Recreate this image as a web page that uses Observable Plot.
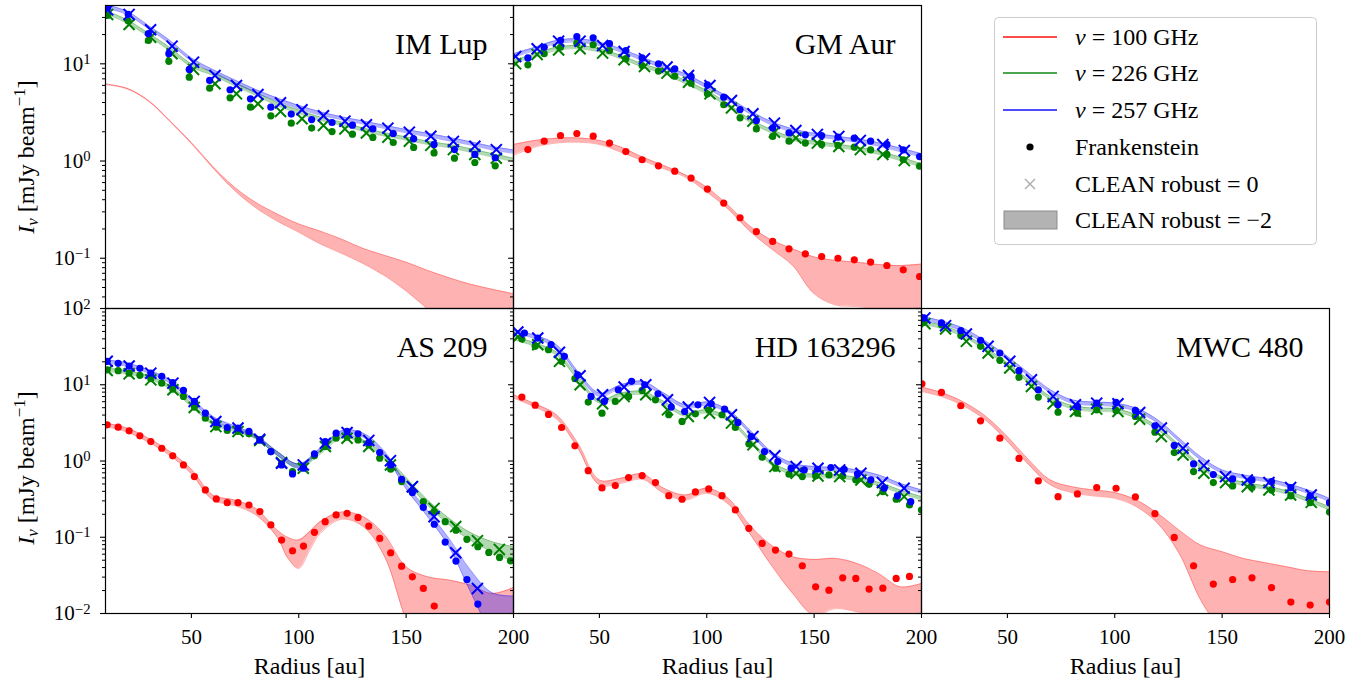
<!DOCTYPE html>
<html><head><meta charset="utf-8">
<script src="https://cdn.jsdelivr.net/npm/d3@7"></script>
<script src="https://cdn.jsdelivr.net/npm/@observablehq/plot@0.6"></script>
<style>
body{margin:0;background:#fff;}
#wrap{position:relative;width:1368px;height:685px;overflow:hidden;background:#fff;font-family:"Liberation Serif","DejaVu Serif",serif;}
#wrap svg{position:absolute;}
#wrap svg text{font-family:"Liberation Serif","DejaVu Serif",serif !important;}
</style></head><body><div id="wrap"></div>
<script>
// ---------------- shared ----------------
const grid = [10,20,30,40,50,60,70,80,90,100,110,120,130,140,150,160,170,180,190,200];
const xTicks = [50,100,150,200];
const yDomainTop = [0.0304, 39.8];
const yDomainBottom = [0.01, 100];
const yMajor = [0.01, 0.1, 1, 10, 100];
const yMinor = [0.02,0.03,0.04,0.05,0.06,0.07,0.08,0.09,0.2,0.3,0.4,0.5,0.6,0.7,0.8,0.9,2,3,4,5,6,7,8,9,20,30,40,50,60,70,80,90];

// ---------------- IM Lup ----------------
const imlup_fr_x = [11,20.6,30,39.5,49,58.5,68,77.5,87,96.5,106,115.5,125,134.5,144,153.5,163,172.5,182,191.5];
const imlup_fr257 = [37.7,32.2,20.4,12.7,8.75,6.74,5.41,4.36,3.58,3.04,2.67,2.49,2.34,2.14,1.92,1.69,1.48,1.31,1.17,1.08];
const imlup_fr226 = [31.4,27.5,17.4,10.6,7.29,5.62,4.47,3.58,2.92,2.45,2.18,2.01,1.89,1.75,1.55,1.38,1.21,1.07,0.966,0.893];
const imlup_cl_x = [11,21,31,41,51,61,71,81,91.5,101.5,111.5,121.5,131.5,141.5,151.5,161.5,172,182,192];
const imlup_cl257 = [35.9,32.2,22.4,15.2,10.4,7.59,5.98,4.83,3.97,3.37,2.92,2.57,2.36,2.18,1.98,1.80,1.59,1.42,1.31];
const imlup_cl226 = [32.2,25.4,18.8,12.7,8.75,6.23,4.91,3.88,3.24,2.72,2.32,2.14,1.94,1.76,1.60,1.45,1.31,1.17,1.07];
const imlup_b100_hi = [6.2,5.6,4.2,2.6,1.55,0.88,0.54,0.375,0.285,0.225,0.19,0.157,0.126,0.107,0.091,0.075,0.063,0.054,0.048,0.0431];
const imlup_b100_lo = [6.12,5.52,4.13,2.55,1.51,0.85,0.50,0.33,0.24,0.185,0.14,0.112,0.088,0.066,0.046,0.030,0.020,0.0135,0.0095,0.0068];
const imlup_b226_hi = [35.4,28.4,20.7,14.7,10.0,8.21,6.43,5.11,4.00,3.34,2.83,2.51,2.18,1.95,1.77,1.60,1.48,1.34,1.19,1.07];
const imlup_b226_lo = [32.7,26.2,19.1,13.6,9.24,7.59,5.94,4.72,3.70,3.08,2.61,2.32,2.01,1.80,1.64,1.48,1.37,1.23,1.10,0.989];
const imlup_b257_hi = [40.5,34.8,24.8,17.4,11.5,8.74,6.85,5.44,4.44,3.73,3.21,2.85,2.58,2.33,2.11,1.93,1.75,1.58,1.41,1.30];
const imlup_b257_lo = [37.4,32.2,22.9,16.1,10.7,8.08,6.33,5.03,4.10,3.44,2.96,2.66,2.40,2.16,1.95,1.78,1.61,1.46,1.30,1.20];

// ---------------- GM Aur ----------------
const gmaur_fr_x = [16.7,24.3,31.9,39.5,47.1,54.7,62.3,69.9,77.5,85.1,92.7,100.3,107.9,115.5,123.1,130.7,138.3,145.9,153.5,161.1,168.7,176.3,183.9,191.5,199.1];
const gmaur_fr257 = [11.5,14.8,17.4,19.1,18.5,16.1,13.7,11.5,10.0,8.89,7.41,6.08,4.54,3.39,2.61,2.18,1.95,1.86,1.83,1.76,1.72,1.60,1.48,1.30,1.11];
const gmaur_fr226 = [9.77,12.7,14.8,16.3,15.7,13.7,11.3,9.6,8.41,7.47,6.32,4.91,3.79,2.78,2.14,1.79,1.60,1.53,1.48,1.45,1.39,1.30,1.17,1.03,0.885];
const gmaur_fr100 = [1.31,1.60,1.83,1.92,1.80,1.53,1.25,1.03,0.893,0.787,0.667,0.514,0.369,0.261,0.188,0.149,0.125,0.111,0.104,0.100,0.0964,0.0912,0.0842,0.0760,0.0649];
const gmaur_cl_x = [11,21,31,41,51.5,61.5,71,81.5,91.5,101.5,111.5,121.5,131.5,141.5,151.5,161.5,171.5,182,192];
const gmaur_cl257 = [11.9,14.3,17.1,17.1,15.4,13.4,11.3,9.25,7.59,5.98,4.19,3.06,2.45,2.06,1.88,1.79,1.63,1.48,1.28];
const gmaur_cl226 = [10.0,12.5,13.9,14.3,12.9,11.0,9.4,8.02,6.47,4.91,3.52,2.57,1.98,1.73,1.53,1.41,1.31,1.17,1.01];
const gmaur_b100_hi = [1.48,1.63,1.72,1.73,1.63,1.39,1.10,0.90,0.721,0.538,0.35,0.215,0.155,0.125,0.103,0.095,0.091,0.086,0.084,0.087];
const gmaur_b100_lo = [1.14,1.39,1.53,1.56,1.48,1.23,1.01,0.832,0.683,0.479,0.32,0.19,0.125,0.084,0.043,0.033,0.0318,0.030,0.028,0.026];
const gmaur_b226_hi = [10.8,12.7,14.8,15.4,14.3,12.2,10.0,8.54,6.74,5.32,3.88,2.72,2.11,1.76,1.60,1.50,1.39,1.26,1.10,0.936];
const gmaur_b226_lo = [10.0,11.7,13.7,14.3,13.2,11.3,9.24,7.89,6.23,4.91,3.58,2.51,1.95,1.63,1.48,1.39,1.28,1.17,1.01,0.865];
const gmaur_b257_hi = [12.7,14.8,17.4,18.1,16.7,14.3,11.7,9.61,7.89,6.08,4.54,3.31,2.55,2.14,1.93,1.80,1.69,1.54,1.36,1.19];
const gmaur_b257_lo = [11.7,13.7,16.1,16.7,15.4,13.2,10.8,8.88,7.29,5.62,4.20,3.06,2.36,1.98,1.79,1.67,1.56,1.42,1.25,1.10];

// ---------------- AS 209 ----------------
const as209_fr_x = [10.8,15.9,21.0,26.0,31.1,36.2,41.3,46.3,51.4,56.5,61.6,66.7,71.7,76.8,81.9,87.0,92.0,97.1,102.2,107.3,112.3,117.4,122.5,127.6,132.6,137.7,142.8,147.9,152.9,158.0,163.1,168.2,173.2,178.3,183.4,188.5,193.5,198.6];
const as209_fr257 = [20.3,19.1,17.6,16.4,14.2,12.9,10.7,8.42,6.04,4.24,3.20,2.75,2.70,2.44,1.89,1.33,0.889,0.677,0.804,1.24,1.80,2.32,2.44,2.27,1.75,1.29,0.889,0.576,0.385,0.247,0.148,0.0865,0.0487,0.0279,0.0133];
const as209_fr226 = [15.7,15.3,14.2,13.3,12.0,10.5,8.77,7.03,5.09,3.65,2.78,2.51,2.44,2.27,1.89,1.33,0.935,0.726,0.845,1.17,1.55,1.99,2.05,1.89,1.63,1.09,0.779,0.537,0.397,0.293,0.217,0.160,0.124,0.0938,0.0751,0.0633,0.0543,0.0491];
const as209_fr100 = [2.98,2.78,2.49,2.14,1.80,1.47,1.17,0.889,0.625,0.417,0.318,0.284,0.284,0.265,0.217,0.145,0.0919,0.0665,0.0766,0.116,0.160,0.196,0.206,0.182,0.140,0.0966,0.0626,0.0418,0.0303,0.0213,0.0125];
const as209_cl_x = [10.8,21.0,31.1,41.4,51.3,61.4,71.7,81.8,92.0,102.1,112.4,122.5,132.6,142.7,152.9,163.0,173.1,183.2,193.4];
const as209_cl257 = [20.3,17.6,14.2,10.5,6.04,3.30,2.70,1.93,0.935,0.889,1.71,2.36,1.86,1.01,0.461,0.186,0.0626,0.0213];
const as209_cl226 = [15.4,13.9,11.6,8.60,5.04,2.83,2.44,1.86,0.954,0.804,1.55,1.99,1.55,0.889,0.461,0.239,0.138,0.0901,0.0693];
const as209_b100_x = [10,20,30,40,50,60,70,80,90,95,100,105,110,120,130,140,150,160,170,180,190,200];
const as209_b100_hi = [3.14,2.70,1.99,1.33,0.779,0.358,0.308,0.239,0.124,0.0996,0.0919,0.118,0.160,0.214,0.186,0.107,0.0410,0.0303,0.0274,0.0235,0.0183,0.0219];
const as209_b100_lo = [2.83,2.39,1.76,1.18,0.677,0.308,0.260,0.196,0.0996,0.0527,0.0390,0.0665,0.112,0.172,0.138,0.0555,0.0082,0.002,0.001,0.001,0.001,0.001];
const as209_b226_hi = [16.6,15.3,13.1,9.80,5.74,3.30,2.70,2.16,1.33,0.907,1.36,2.20,1.89,1.20,0.606,0.308,0.177,0.115,0.0874,0.0751];
const as209_b226_lo = [15.0,13.8,11.9,8.86,5.19,2.98,2.44,1.95,1.19,0.811,1.23,1.99,1.71,1.08,0.526,0.262,0.145,0.0901,0.0646,0.0477];
const as209_b257_hi = [21.3,19.3,15.7,11.6,6.68,3.84,2.89,2.20,1.33,0.916,1.47,2.49,2.32,1.33,0.500,0.223,0.0966,0.0371,0.0187,0.0169];
const as209_b257_lo = [19.3,17.4,14.2,10.5,6.04,3.47,2.61,1.99,1.18,0.804,1.33,2.25,2.05,1.18,0.430,0.186,0.0751,0.0192,0.0055,0.0030];

// ---------------- HD 163296 ----------------
const hd_fr257_x = [15.1,21.3,27.5,33.7,39.9,46.1,52.3,58.8,65.0,71.1,77.3,83.5,89.7,95.9,102.1,108.3,114.5,120.7,126.9,133.1,139.3,145.4,151.6,157.8,164.0,170.2,176.4,182.6,188.8,195.0];
const hd_fr257 = [47.7,41.0,33.5,23.6,13.5,7.03,6.04,8.60,11.1,10.0,7.61,5.09,4.46,5.46,5.63,4.79,3.20,2.09,1.33,0.983,0.804,0.764,0.779,0.820,0.779,0.677,0.564,0.439,0.348,0.293];
const hd_fr_x = [13.9,20.1,26.3,32.4,38.6,44.8,51.2,57.4,63.6,69.9,76.1,82.3,88.5,94.7,100.9,107.1,113.3,119.6,125.8,132.0,138.3,144.5,150.7,156.9,163.3,169.4,175.6,182.0,188.2,194.4,200.0];
const hd_fr226 = [39.8,31.9,28.8,20.3,12.0,5.92,4.24,6.04,7.03,8.42,6.35,4.04,3.30,4.16,4.69,4.04,2.75,1.68,1.12,0.804,0.670,0.625,0.637,0.657,0.637,0.564,0.495,0.397,0.315,0.265,0.228];
const hd_fr100 = [6.89,5.40,4.08,2.75,1.58,0.747,0.443,0.476,0.606,0.643,0.521,0.351,0.315,0.393,0.430,0.351,0.228,0.131,0.0831,0.0679,0.0602,0.0423,0.0224,0.0202,0.0294,0.0288,0.0209,0.0215,0.0288,0.0306];
const hd_cl_x = [12.0,21.3,31.4,41.0,51.5,61.5,71.6,81.7,91.4,101.3,111.5,121.5,131.7,141.6,151.8,161.9,171.8,181.8,191.9];
const hd_cl257 = [49.2,41.0,26.6,13.1,7.39,9.32,10.0,6.35,5.09,5.86,4.04,2.09,1.17,0.845,0.804,0.764,0.690,0.521,0.439];
const hd_cl226 = [42.3,33.5,20.3,10.0,5.63,7.03,7.39,4.69,3.84,4.24,3.14,1.63,0.845,0.690,0.637,0.625,0.564,0.409,0.341];
const hd_b100_hi = [7.39,5.63,4.04,1.71,0.564,0.594,0.677,0.439,0.358,0.439,0.324,0.145,0.0790,0.0555,0.0512,0.0527,0.0453,0.0335,0.0224,0.0248];
const hd_b100_lo = [6.68,5.09,3.57,1.47,0.485,0.510,0.576,0.377,0.308,0.377,0.273,0.112,0.0431,0.0183,0.0095,0.0116,0.0105,0.0090,0.0082,0.0082];
const hd_b226_hi = [43.2,35.3,26.9,12.9,6.35,7.77,8.17,6.04,4.24,4.69,3.72,1.99,0.983,0.726,0.670,0.657,0.612,0.526,0.417,0.341];
const hd_b226_lo = [39.0,31.9,24.3,11.6,5.74,7.03,7.39,5.46,3.84,4.24,3.36,1.80,0.889,0.657,0.606,0.594,0.553,0.476,0.377,0.308];
const hd_b257_hi = [52.8,44.5,33.5,15.0,7.77,10.0,11.1,7.77,5.46,5.92,4.69,2.56,1.33,0.935,0.845,0.820,0.764,0.657,0.510,0.417];
const hd_b257_lo = [47.7,40.2,30.3,13.5,7.03,9.04,10.0,7.03,4.94,5.35,4.24,2.32,1.20,0.845,0.764,0.741,0.690,0.594,0.461,0.377];

// ---------------- MWC 480 ----------------
const mwc_fr_x = [11.2,19.3,28.3,37.5,46.5,55.4,64.4,73.6,82.6,91.6,100.6,109.6,118.7,127.7,136.7,145.9,154.9,163.9,173.0,182.0,191.0,200.0];
const mwc_fr100_x = [10.2,19.3,28.3,37.5,46.5,55.4,64.4,73.6,82.6,91.6,100.6,109.6,118.7,127.7,136.7,145.9,154.9,163.9,173.0,182.0,191.0,200.0];
const mwc_fr257 = [75.2,64.6,51.2,38.2,26.1,15.3,8.60,5.46,5.19,5.74,5.86,4.60,2.89,1.60,0.916,0.663,0.582,0.564,0.537,0.448,0.348,0.284];
const mwc_fr226 = [65.9,61.4,44.1,31.9,20.9,12.5,6.89,4.37,4.24,4.69,4.60,3.84,2.39,1.29,0.726,0.521,0.471,0.448,0.417,0.348,0.284,0.214];
const mwc_fr100 = [10.3,7.93,5.30,3.36,1.99,1.08,0.548,0.341,0.370,0.448,0.439,0.338,0.204,0.0996,0.0423,0.0243,0.0279,0.0294,0.0219,0.0141,0.0129,0.0141];
const mwc_cl_x = [11.6,21.2,30.9,41.0,51.1,61.2,71.3,81.7,91.6,101.5,111.6,121.7,131.8,141.5,151.6,161.7,171.8,181.9,191.5];
const mwc_cl257 = [75.2,59.6,46.3,31.9,20.3,11.6,7.03,5.46,5.74,5.63,4.33,2.70,1.47,0.871,0.625,0.564,0.521,0.448,0.358];
const mwc_cl226 = [63.3,53.9,37.1,26.1,16.6,9.51,5.63,4.46,4.79,4.46,3.54,2.09,1.20,0.690,0.521,0.461,0.417,0.358,0.287];
const mwc_b100_hi = [9.32,7.77,5.86,3.84,2.09,1.03,0.564,0.461,0.417,0.385,0.308,0.206,0.124,0.0790,0.0646,0.0527,0.0463,0.0410,0.0363,0.0352];
const mwc_b100_lo = [8.17,6.89,5.19,3.40,1.80,0.889,0.485,0.385,0.348,0.324,0.252,0.152,0.0614,0.0150,0.0055,0.002,0.001,0.001,0.001,0.001];
const mwc_b226_hi = [69.3,59.6,46.3,30.9,19.3,11.6,7.03,5.35,4.94,4.84,4.04,2.83,1.63,0.889,0.625,0.526,0.471,0.409,0.324,0.252];
const mwc_b226_lo = [62.7,53.9,41.9,28.0,17.4,10.5,6.35,4.84,4.46,4.37,3.65,2.56,1.47,0.804,0.564,0.476,0.426,0.370,0.293,0.228];
const mwc_b257_hi = [79.1,67.9,54.4,37.1,23.6,14.2,8.60,6.35,5.92,5.74,4.94,3.47,1.99,1.14,0.764,0.657,0.594,0.510,0.417,0.324];
const mwc_b257_lo = [71.5,61.4,49.2,33.5,21.3,12.9,7.77,5.74,5.35,5.19,4.46,3.14,1.80,1.03,0.690,0.594,0.537,0.461,0.377,0.293];

// ---------------- legend ----------------
const legendLabels = ["= 100 GHz", "= 226 GHz", "= 257 GHz", "Frankenstein", "CLEAN robust = 0", "CLEAN robust = \u22122"];
const legendColors = ["#ff4d4d", "#4da64d", "#4d4dff"];

// ---------------- build ----------------
const C100 = "red", C226 = "green", C257 = "blue";
const zip = (xs, ys) => ys.map((y, i) => ({x: xs[i], y}));
const bandData = (xs, lo, hi) => xs.map((x, i) => ({x, lo: lo[i], hi: hi[i]}));

const panels = [
  {name: "IM Lup", col: 0, row: 0,
   bands: [[grid, imlup_b100_lo, imlup_b100_hi, C100], [grid, imlup_b226_lo, imlup_b226_hi, C226], [grid, imlup_b257_lo, imlup_b257_hi, C257]],
   dots: [[imlup_fr_x, imlup_fr226, C226], [imlup_fr_x, imlup_fr257, C257]],
   crosses: [[imlup_cl_x, imlup_cl226, C226], [imlup_cl_x, imlup_cl257, C257]]},
  {name: "GM Aur", col: 1, row: 0,
   bands: [[grid, gmaur_b100_lo, gmaur_b100_hi, C100], [grid, gmaur_b226_lo, gmaur_b226_hi, C226], [grid, gmaur_b257_lo, gmaur_b257_hi, C257]],
   dots: [[gmaur_fr_x, gmaur_fr100, C100], [gmaur_fr_x, gmaur_fr226, C226], [gmaur_fr_x, gmaur_fr257, C257]],
   crosses: [[gmaur_cl_x, gmaur_cl226, C226], [gmaur_cl_x, gmaur_cl257, C257]]},
  {name: "AS 209", col: 0, row: 1,
   bands: [[as209_b100_x, as209_b100_lo, as209_b100_hi, C100], [grid, as209_b226_lo, as209_b226_hi, C226], [grid, as209_b257_lo, as209_b257_hi, C257]],
   dots: [[as209_fr_x, as209_fr100, C100], [as209_fr_x, as209_fr226, C226], [as209_fr_x, as209_fr257, C257]],
   crosses: [[as209_cl_x, as209_cl226, C226], [as209_cl_x, as209_cl257, C257]]},
  {name: "HD 163296", col: 1, row: 1,
   bands: [[grid, hd_b100_lo, hd_b100_hi, C100], [grid, hd_b226_lo, hd_b226_hi, C226], [grid, hd_b257_lo, hd_b257_hi, C257]],
   dots: [[hd_fr_x, hd_fr100, C100], [hd_fr_x, hd_fr226, C226], [hd_fr257_x, hd_fr257, C257]],
   crosses: [[hd_cl_x, hd_cl226, C226], [hd_cl_x, hd_cl257, C257]]},
  {name: "MWC 480", col: 2, row: 1,
   bands: [[grid, mwc_b100_lo, mwc_b100_hi, C100], [grid, mwc_b226_lo, mwc_b226_hi, C226], [grid, mwc_b257_lo, mwc_b257_hi, C257]],
   dots: [[mwc_fr100_x, mwc_fr100, C100], [mwc_fr_x, mwc_fr226, C226], [mwc_fr_x, mwc_fr257, C257]],
   crosses: [[mwc_cl_x, mwc_cl226, C226], [mwc_cl_x, mwc_cl257, C257]]}
];

const wrap = document.getElementById("wrap");
const NS = "http://www.w3.org/2000/svg";
const colX = [105, 513, 921];
const rowY = [5, 308];
const rowH = [303, 305];
const FW = 408, mL = 70, mR = 30, mT = 10, mB = 70;
const FONT = "'Liberation Serif', 'DejaVu Serif', serif";

function fmtExp(v) { return "10^" + Math.round(Math.log10(v)); }

for (const p of panels) {
  const top = p.row === 0;
  const fh = rowH[p.row];
  const dom = top ? yDomainTop : yDomainBottom;
  const marks = [];
  for (const [xs, lo, hi, c] of p.bands) {
    const d = bandData(xs, lo, hi);
    marks.push(Plot.areaY(d, {x: "x", y1: "lo", y2: "hi", fill: c, fillOpacity: 0.3, curve: "catmull-rom", clip: true}));
    marks.push(Plot.line(d, {x: "x", y: "lo", stroke: c, strokeOpacity: 0.3, strokeWidth: 1, curve: "catmull-rom", clip: true}));
    marks.push(Plot.line(d, {x: "x", y: "hi", stroke: c, strokeOpacity: 0.3, strokeWidth: 1, curve: "catmull-rom", clip: true}));
  }
  const order = [];
  for (const dd of p.dots) if (dd[2] === C100) order.push(["dot", dd]);
  for (const col of [C226, C257]) {
    for (const dd of p.dots) if (dd[2] === col) order.push(["dot", dd]);
    for (const cc of p.crosses) if (cc[2] === col) order.push(["cross", cc]);
  }
  for (const [kind, [xs, ys, c]] of order) {
    const d = zip(xs, ys);
    if (kind === "dot") marks.push(Plot.dot(d, {x: "x", y: "y", r: 3.6, fill: c, stroke: "none", clip: true}));
    else marks.push(Plot.dot(d, {x: "x", y: "y", r: 5.1, symbol: "times", stroke: c, strokeWidth: 2, clip: true}));
  }
  const yTicksMajor = yMajor.filter(v => v >= dom[0] - 1e-9 && v <= dom[1] + 1e-9);
  const yTicksMinor = yMinor.filter(v => v >= dom[0] && v <= dom[1]);
  marks.push(Plot.axisY({ticks: yTicksMinor, tickSize: 3, tickFormat: () => "", strokeWidth: 1}));
  marks.push(Plot.axisY({ticks: yTicksMajor, tickSize: 5, tickPadding: 10, strokeWidth: 1.1,
    tickFormat: p.col === 0 ? fmtExp : () => "", fontSize: 21, label: null}));
  if (!top) {
    marks.push(Plot.axisX({ticks: xTicks, tickSize: 5, tickPadding: 11, fontSize: 21, label: null, strokeWidth: 1.1}));
    marks.push(Plot.text(["Radius [au]"], {text: d => d, frameAnchor: "bottom", lineAnchor: "bottom", dy: 60, fontSize: 24}));
  }
  marks.push(Plot.text([p.name], {text: d => d, frameAnchor: "top-right", textAnchor: "end", lineAnchor: "top", dx: -26, dy: 27, fontSize: 30}));
  marks.push(Plot.frame({stroke: "#000", strokeWidth: 1.2}));

  const svg = Plot.plot({
    width: FW + mL + mR, height: fh + mT + mB,
    marginLeft: mL, marginRight: mR, marginTop: mT, marginBottom: mB,
    x: {type: "linear", domain: [10, 200], axis: null},
    y: {type: "log", domain: dom, axis: null},
    style: {fontFamily: FONT, fontSize: "21px", background: "transparent", overflow: "visible", color: "#000"},
    marks
  });
  svg.setAttribute("font-family", FONT);
  svg.style.position = "absolute";
  svg.style.left = (colX[p.col] - mL) + "px";
  svg.style.top = (rowY[p.row] - mT) + "px";
  svg.style.maxWidth = "none";
  svg.querySelectorAll('g[aria-label="y-axis tick label"] text').forEach(t => {
    const s = t.textContent;
    if (!s || s.indexOf("^") < 0) return;
    const [b, e] = s.split("^");
    t.textContent = "";
    const t1 = document.createElementNS(NS, "tspan"); t1.textContent = b;
    const t2 = document.createElementNS(NS, "tspan");
    t2.setAttribute("dy", "-0.45em"); t2.setAttribute("font-size", "70%");
    t2.textContent = e.replace("-", "\u2212");
    t.appendChild(t1); t.appendChild(t2);
  });
  wrap.appendChild(svg);
}

// ---------------- overlay: y labels + legend ----------------
const ov = d3.select(wrap).append("svg").attr("width", 1368).attr("height", 685)
  .style("left", "0px").style("top", "0px").style("pointer-events", "none")
  .attr("font-family", FONT);

for (const cy of [157, 468]) {
  const t = ov.append("text").attr("transform", `translate(34,${cy}) rotate(-90)`)
    .attr("text-anchor", "middle").attr("font-size", 24).attr("fill", "#000");
  t.append("tspan").attr("font-style", "italic").text("I");
  t.append("tspan").attr("font-style", "italic").attr("font-size", 17).attr("dy", 4).text("\u03bd");
  t.append("tspan").attr("dy", -4).text(" [mJy beam");
  t.append("tspan").attr("font-size", 17).attr("dy", -9).text("\u22121");
  t.append("tspan").attr("dy", 9).text("]");
}

const lg = ov.append("g");
lg.append("rect").attr("x", 994.5).attr("y", 17.5).attr("width", 322).attr("height", 227)
  .attr("rx", 4).attr("fill", "#fff").attr("fill-opacity", 0.8).attr("stroke", "#cccccc").attr("stroke-width", 1);
const rowsY = [37, 73, 110, 147, 184, 220];
legendLabels.forEach((lab, i) => {
  const y = rowsY[i];
  if (i < 3) {
    lg.append("line").attr("x1", 1003).attr("x2", 1057).attr("y1", y).attr("y2", y)
      .attr("stroke", legendColors[i]).attr("stroke-width", 2);
  } else if (i === 3) {
    lg.append("circle").attr("cx", 1030).attr("cy", y).attr("r", 3.6).attr("fill", "#000");
  } else if (i === 4) {
    lg.append("path").attr("d", `M1025,${y - 5}L1035,${y + 5}M1025,${y + 5}L1035,${y - 5}`)
      .attr("stroke", "#b0b0b0").attr("stroke-width", 1.5);
  } else {
    lg.append("rect").attr("x", 1004).attr("y", y - 9).attr("width", 53).attr("height", 18)
      .attr("fill", "#b3b3b3").attr("stroke", "#8c8c8c").attr("stroke-width", 1);
  }
  const t = lg.append("text").attr("x", 1075).attr("y", y).attr("dy", "0.34em")
    .attr("font-size", 24).attr("fill", "#000");
  if (i < 3) {
    t.append("tspan").attr("font-style", "italic").text("\u03bd ");
    t.append("tspan").text(lab);
  } else {
    t.text(lab);
  }
});
</script></body></html>
